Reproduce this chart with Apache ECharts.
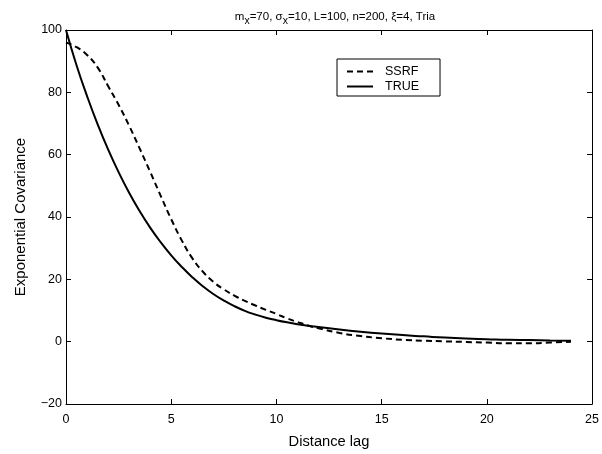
<!DOCTYPE html>
<html><head><meta charset="utf-8">
<script src="https://cdn.jsdelivr.net/npm/echarts@6/dist/echarts.min.js"></script>
<style>html,body{margin:0;padding:0;background:#fff}#c{width:602px;height:454px}</style>
</head><body><div id="c"></div>
<script>
const lagTrue = [0,0.5,1,1.5,2,2.5,3,3.5,4,4.5,5,5.5,6,6.5,7,7.5,8,8.5,9,9.5,10,10.5,11,11.5,12,13,14,15,16,17,18,19,20,21,22,23,24];
const covTrue = [100,88.7,78.8,69.8,61.7,54.4,47.8,41.9,36.6,31.9,27.7,24.0,20.7,17.8,15.3,13.2,11.4,9.9,8.7,7.7,6.9,6.2,5.6,5.1,4.7,3.9,3.2,2.6,2.1,1.7,1.3,1.0,0.8,0.6,0.5,0.4,0.3];
const lagSSRF = [0,0.5,1,1.5,2,2.5,3,3.5,4,4.5,5,5.5,6,6.5,7,7.5,8,8.5,9,9.5,10,10.5,11,11.5,12,13,14,15,16,17,18,19,20,21,22,23,24];
const covSSRF = [96,94.5,92,88,82,76,69.3,62,54.5,46.8,39.3,32.5,26.8,22.5,19.2,16.8,14.8,13.1,11.6,10.2,8.9,7.5,6.3,5.2,4.3,2.8,1.8,1.1,0.6,0.3,0.1,-0.1,-0.3,-0.5,-0.5,-0.3,0.0];
const xTicks = [0,5,10,15,20,25];
const yTicks = [-20,0,20,40,60,80,100];

const font = 'Liberation Sans, Arial, Helvetica, sans-serif';
const chart = echarts.init(document.getElementById('c'), null, {renderer:'canvas'});
const axisCommon = {
  axisLine:{show:true,onZero:false,lineStyle:{color:'#000',width:1}},
  axisTick:{show:true,inside:true,length:5,lineStyle:{color:'#000'}},
  splitLine:{show:false}
};
chart.setOption({
  animation:false,
  backgroundColor:'#fff',
  title:{
    text:'{n|m}{s|x}{n|=70, σ}{s|x}{n|=10, L=100, n=200, ξ=4, Tria}',
    left:330, top:6, textAlign:'center',
    textStyle:{fontWeight:'normal',rich:{
      n:{fontFamily:font,fontSize:11.5,fontWeight:'normal',color:'#000',verticalAlign:'top',lineHeight:13},
      s:{fontFamily:font,fontSize:10.5,fontWeight:'normal',color:'#000',verticalAlign:'top',lineHeight:13,padding:[5,0,0,0]}
    }}
  },
  legend:{
    orient:'vertical', left:337, top:59,
    borderColor:'#000', borderWidth:1, borderRadius:0,
    padding:[6,21,3,9], itemGap:2,
    itemWidth:26, itemHeight:14,
    itemStyle:{opacity:0},
    textStyle:{fontFamily:font,fontSize:12.5,color:'#000',padding:[0,0,0,7]},
    data:['SSRF','TRUE']
  },
  grid:{left:66,right:8,top:30,bottom:44,containLabel:false},
  xAxis:[
    Object.assign({type:'value',min:0,max:25,interval:5,position:'bottom',
      name:'Distance lag',nameLocation:'middle',nameGap:30,
      nameTextStyle:{fontFamily:font,fontSize:14.7,color:'#000'},
      axisLabel:{fontFamily:font,fontSize:12.5,color:'#000',margin:9,
        formatter:v=>xTicks.includes(v)?String(v):''}},axisCommon),
    Object.assign({type:'value',min:0,max:25,interval:5,position:'top',axisLabel:{show:false}},axisCommon)
  ],
  yAxis:[
    Object.assign({type:'value',min:-20,max:100,interval:20,position:'left',
      name:'Exponential Covariance',nameLocation:'middle',nameGap:38,
      nameTextStyle:{fontFamily:font,fontSize:15,color:'#000'},
      axisLabel:{fontFamily:font,fontSize:12.5,color:'#000',margin:4,
        formatter:v=>yTicks.includes(v)?String(v).replace('-','\u2212'):''}},axisCommon),
    Object.assign({type:'value',min:-20,max:100,interval:20,position:'right',axisLabel:{show:false}},axisCommon)
  ],
  series:[
    {name:'SSRF',type:'line',showSymbol:false,symbol:'none',smooth:true,
      data:lagSSRF.map((x,i)=>[x,covSSRF[i]]),
      lineStyle:{color:'#000',width:2,type:[6,4]},itemStyle:{color:'#000'}},
    {name:'TRUE',type:'line',showSymbol:false,symbol:'none',smooth:true,
      data:lagTrue.map((x,i)=>[x,covTrue[i]]),
      lineStyle:{color:'#000',width:2},itemStyle:{color:'#000'}}
  ]
});
</script></body></html>
